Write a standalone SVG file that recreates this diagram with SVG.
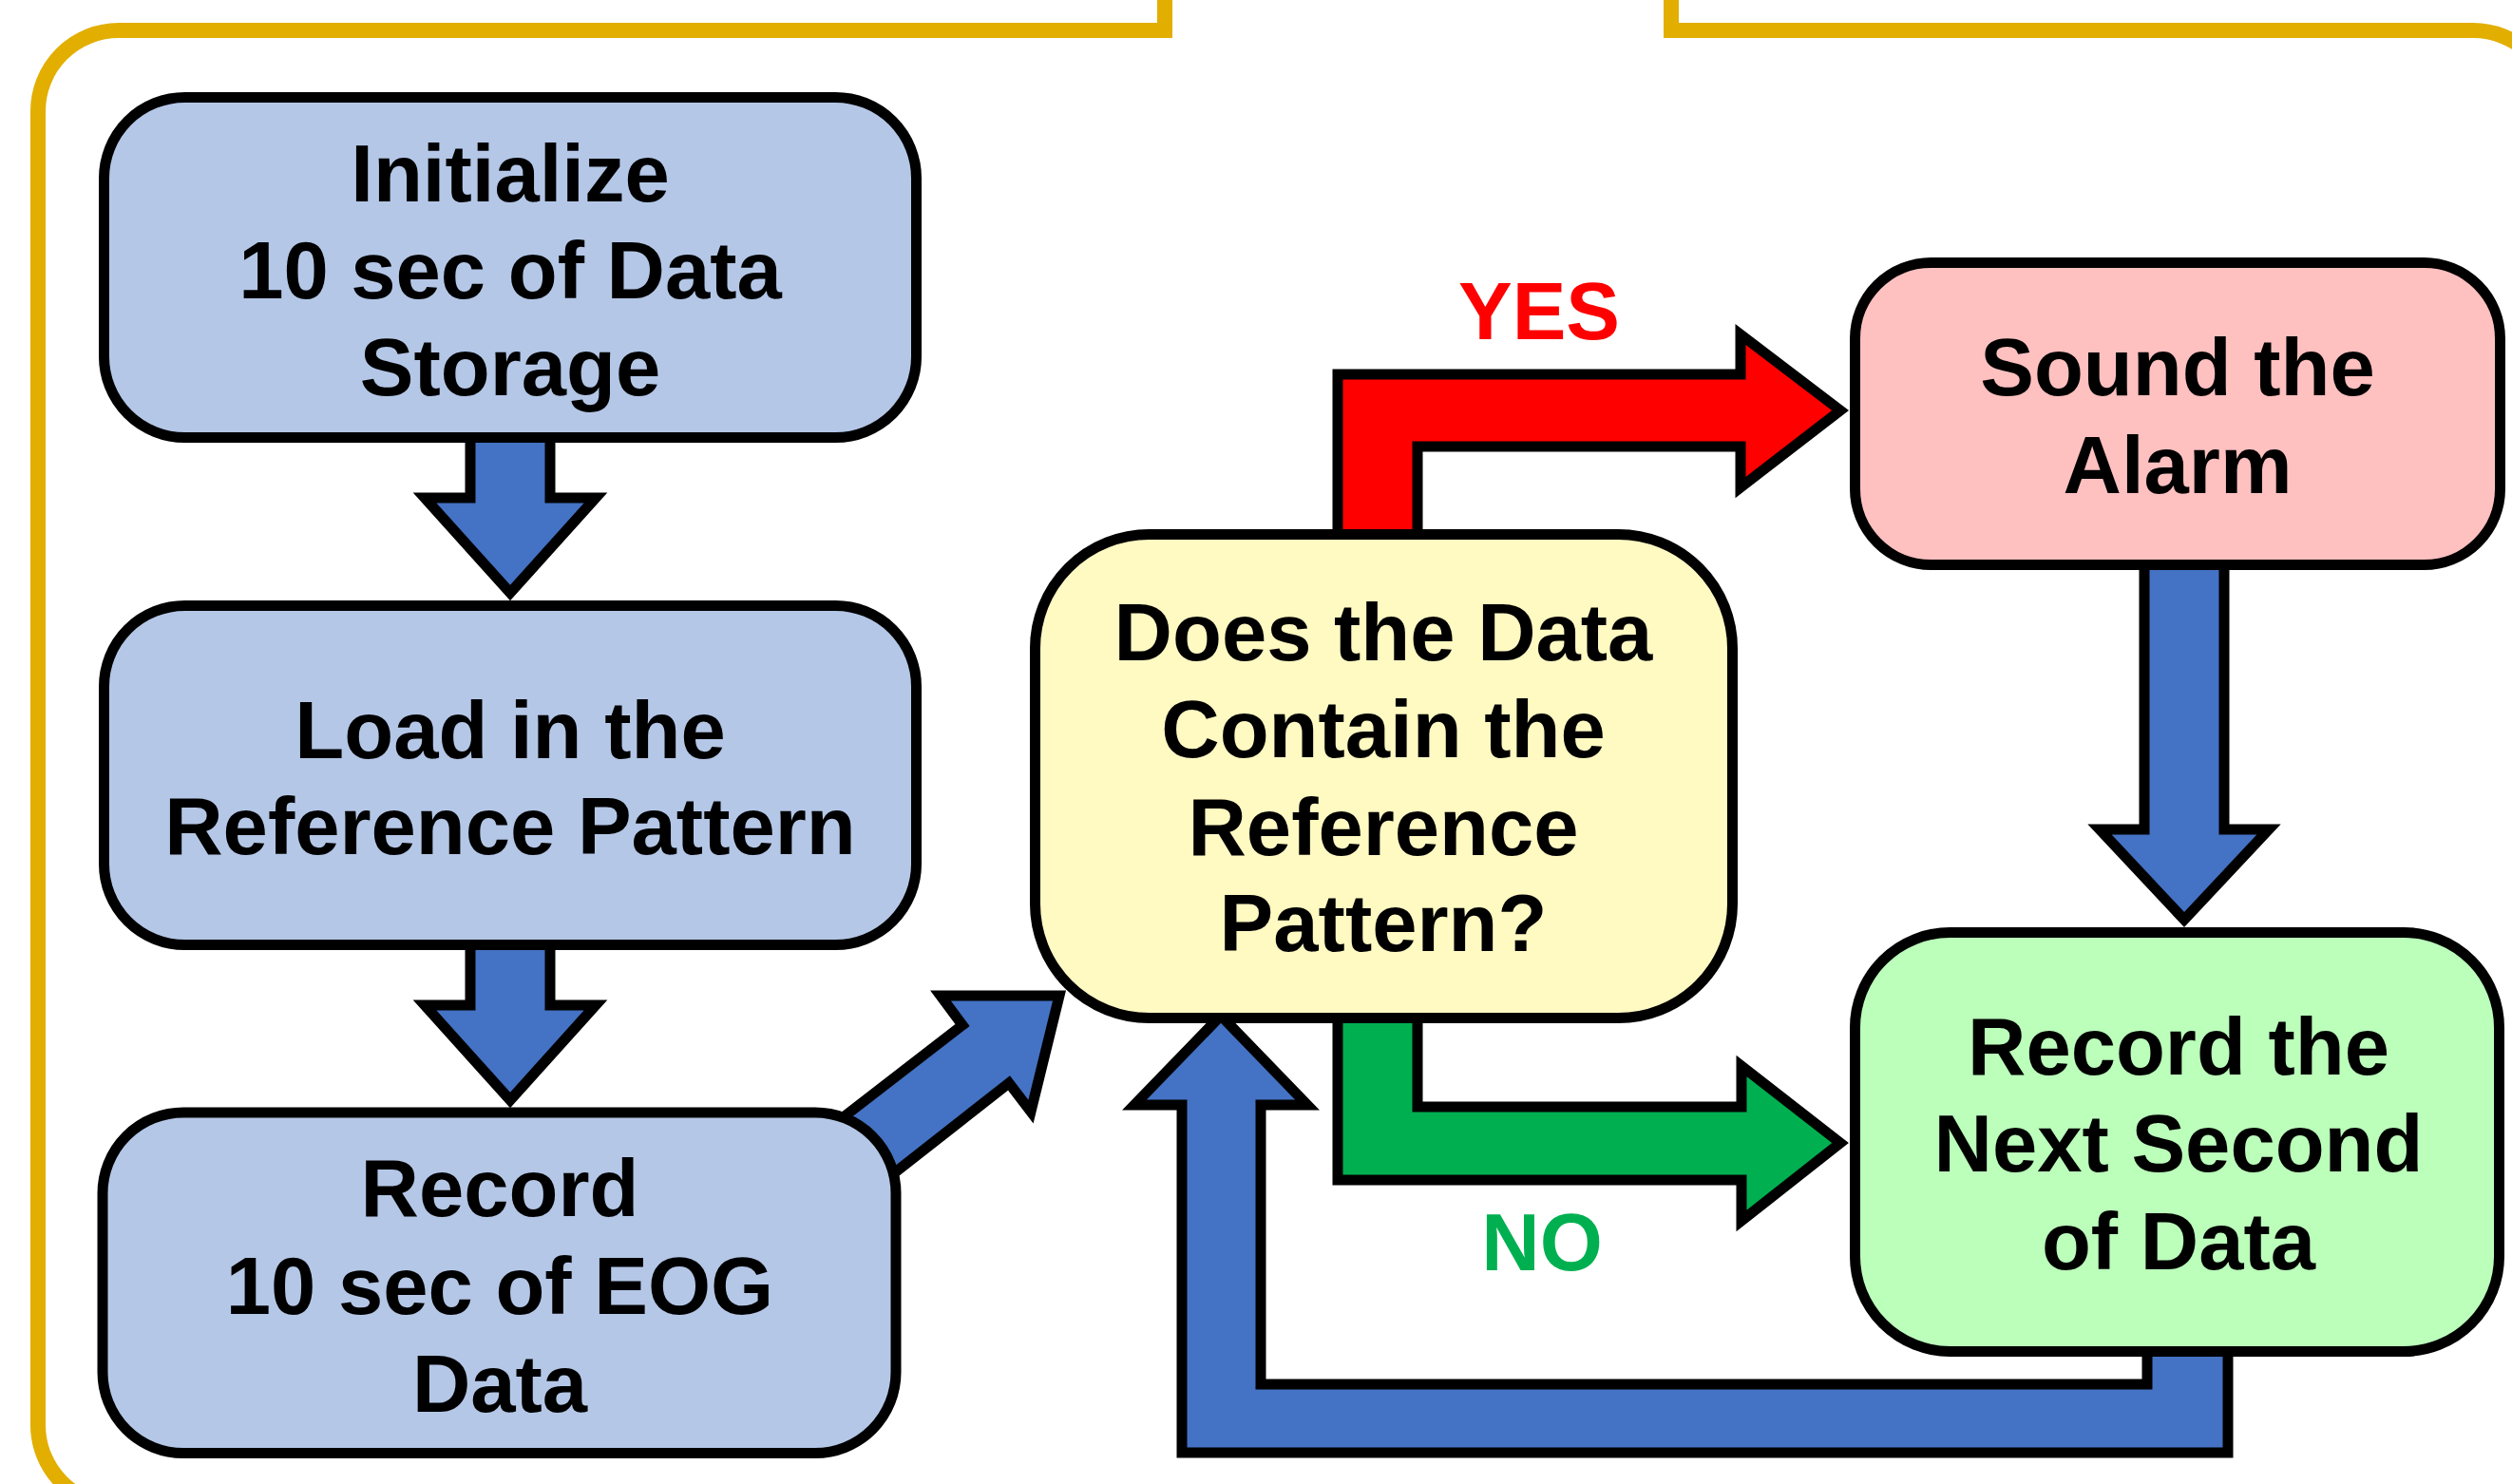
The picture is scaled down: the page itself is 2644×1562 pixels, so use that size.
<svg xmlns="http://www.w3.org/2000/svg" width="2644" height="1562" viewBox="0 0 2644 1562">
<style>
.frame{fill:none;stroke:#E2AE00;stroke-width:16}
.box{stroke:#000;stroke-width:11}
.blue{fill:#B4C7E7}
.yellow{fill:#FFF9C2}
.pink{fill:#FFC0C0}
.green{fill:#BBFFBB}
.arrow{stroke:#000;stroke-width:11;stroke-linejoin:miter;stroke-miterlimit:10}
.ab{fill:#4472C4}
.ar{fill:#FF0000}
.ag{fill:#00B050}
text{font-family:"Liberation Sans",Arial,Helvetica,sans-serif;font-weight:bold;font-size:85px;text-anchor:middle;fill:#000}
.yes{fill:#FF0000}
.no{fill:#00B050}
</style>
<rect width="2644" height="1562" fill="#fff"/>
<path class="frame" d="M1226,0 V32 H125 A85,85 0 0 0 40,117 V1500 A85,85 0 0 0 125,1585 H2603 A85,85 0 0 0 2688,1500 V117 A85,85 0 0 0 2603,32 H1759 V0"/>
<g id="connectors">
<polygon class="arrow ab" points="495,455 579,455 579,524 627,524 537,624 447,524 495,524"/>
<polygon class="arrow ab" points="495,990 579,990 579,1058 627,1058 537,1158 447,1058 495,1058"/>
<polygon class="arrow ab" points="850,1205 1013,1079 990,1048 1115,1048 1085,1170 1062,1140 900,1267"/>
<polygon class="arrow ab" points="2257,585 2341,585 2341,873 2388,873 2299,968 2210,873 2257,873"/>
<polygon class="arrow ar" points="1408,565 1408,394 1832,394 1832,352 1937,432 1832,513 1832,470 1492,470 1492,565"/>
<polygon class="arrow ag" points="1408,1070 1408,1242 1833,1242 1833,1285 1937,1203 1833,1122 1833,1165 1492,1165 1492,1070"/>
<polygon class="arrow ab" points="2260,1415 2260,1457 1327,1457 1327,1163 1376,1163 1285,1069 1194,1163 1244,1163 1244,1529 2345,1529 2345,1415"/>
<text class="yes" x="1620" y="357">YES</text>
<text class="no" x="1623" y="1337">NO</text>
</g>
<g id="n-init">
<rect class="box blue" x="109.5" y="102.5" width="855" height="358" rx="85" ry="85"/>
<text x="537" y="212">Initialize</text>
<text x="537" y="314">10 sec of Data</text>
<text x="537" y="416">Storage</text>
</g>
<g id="n-load">
<rect class="box blue" x="109.5" y="637.5" width="855" height="357" rx="85" ry="85"/>
<text x="537" y="798">Load in the</text>
<text x="537" y="899">Reference Pattern</text>
</g>
<g id="n-record10">
<rect class="box blue" x="108" y="1171" width="835" height="358.5" rx="85" ry="85"/>
<text x="526" y="1280">Record</text>
<text x="526" y="1383">10 sec of EOG</text>
<text x="526" y="1486">Data</text>
</g>
<g id="n-decision">
<rect class="box yellow" x="1089.5" y="562.5" width="734" height="509" rx="120" ry="120"/>
<text x="1456" y="695">Does the Data</text>
<text x="1456" y="797">Contain the</text>
<text x="1456" y="900">Reference</text>
<text x="1456" y="1001">Pattern?</text>
</g>
<g id="n-alarm">
<rect class="box pink" x="1952.5" y="276.5" width="679" height="318" rx="80" ry="80"/>
<text x="2292" y="416">Sound the</text>
<text x="2292" y="519">Alarm</text>
</g>
<g id="n-next">
<rect class="box green" x="1952.5" y="981.5" width="678" height="441" rx="100" ry="100"/>
<text x="2293" y="1131">Record the</text>
<text x="2293" y="1233">Next Second</text>
<text x="2293" y="1336">of Data</text>
</g>
</svg>
